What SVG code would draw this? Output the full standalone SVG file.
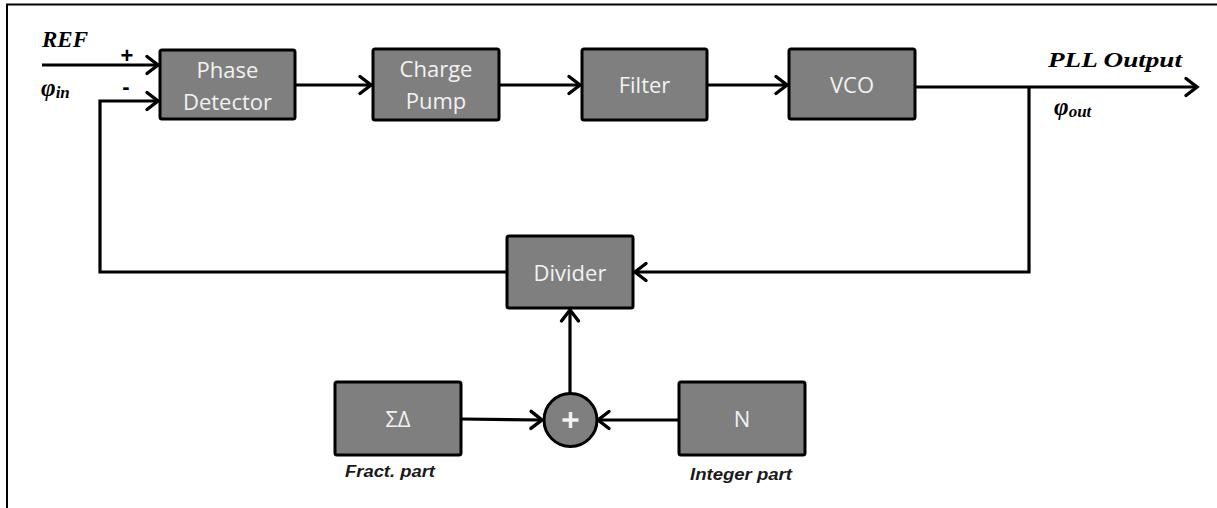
<svg xmlns="http://www.w3.org/2000/svg" width="1217" height="508" viewBox="0 0 1217 508">
<defs>
<marker id="arr" markerUnits="userSpaceOnUse" markerWidth="20" markerHeight="20" refX="0" refY="0" viewBox="-12 -10 14 20" orient="auto" overflow="visible">
<path d="M-11,-8.5 L0,0 L-11,8.5" fill="none" stroke="#000" stroke-width="3.4" stroke-linecap="round" stroke-linejoin="miter"/>
</marker>
<style>
.box{fill:#7f7f7f;stroke:#000;stroke-width:3}
.bt{font-family:"Open Sans","Noto Sans",sans-serif;font-size:22px;fill:#f2f2f2;text-anchor:middle}
.ln{fill:none;stroke:#000;stroke-width:3.2;stroke-linejoin:miter}
.math{font-family:"Liberation Serif",serif;font-weight:bold;font-style:italic;fill:#000}
.lab{font-family:"Liberation Sans",sans-serif;font-weight:bold;font-style:italic;font-size:16px;fill:#1a1a1a}
.sign{font-family:"Liberation Sans",sans-serif;font-weight:bold;font-size:22px;fill:#000;text-anchor:middle}
</style>
</defs>
<rect width="1217" height="508" fill="#fff"/>
<path d="M7,508 L7,4.5 L1217,4.5" fill="none" stroke="#000" stroke-width="2"/>

<g id="connectors">
<line class="ln" x1="42" y1="65" x2="158" y2="65" marker-end="url(#arr)"/>
<polyline class="ln" points="507,272 100,272 100,101 158,101" marker-end="url(#arr)"/>
<line class="ln" x1="295" y1="85" x2="371" y2="85" marker-end="url(#arr)"/>
<line class="ln" x1="499" y1="85" x2="580" y2="85" marker-end="url(#arr)"/>
<line class="ln" x1="707" y1="85" x2="787" y2="85" marker-end="url(#arr)"/>
<line class="ln" x1="915" y1="87" x2="1197" y2="87" marker-end="url(#arr)"/>
<polyline class="ln" points="1029,87 1029,272 635,272" marker-end="url(#arr)"/>
<line class="ln" x1="570" y1="393" x2="570" y2="310" marker-end="url(#arr)"/>
<line class="ln" x1="461" y1="419" x2="542" y2="420" marker-end="url(#arr)"/>
<line class="ln" x1="679" y1="420" x2="598" y2="420" marker-end="url(#arr)"/>
</g>

<g id="phase-detector">
<rect class="box" x="160" y="50" width="135" height="69" rx="2"/>
<text class="bt" x="227.5" y="78">Phase</text>
<text class="bt" x="227.5" y="110">Detector</text>
</g>
<g id="charge-pump">
<rect class="box" x="373" y="49" width="126" height="71" rx="2"/>
<text class="bt" x="436" y="77">Charge</text>
<text class="bt" x="436" y="109">Pump</text>
</g>
<g id="filter">
<rect class="box" x="582" y="49" width="125" height="71" rx="2"/>
<text class="bt" x="644.5" y="93">Filter</text>
</g>
<g id="vco">
<rect class="box" x="789" y="49" width="126" height="70" rx="2"/>
<text class="bt" x="852" y="93">VCO</text>
</g>
<g id="divider">
<rect class="box" x="507" y="236" width="126" height="72" rx="2"/>
<text class="bt" x="570" y="281">Divider</text>
</g>
<g id="sigma-delta">
<rect class="box" x="335" y="382" width="126" height="73" rx="2"/>
<text class="bt" x="398" y="427">ΣΔ</text>
</g>
<g id="n-block">
<rect class="box" x="679" y="382" width="126" height="73" rx="2"/>
<text class="bt" x="742" y="427">N</text>
</g>
<g id="adder">
<circle cx="570.5" cy="420" r="26.5" fill="#7f7f7f" stroke="#000" stroke-width="3"/>
<path d="M570.5,412 V428 M562.5,420 H578.5" stroke="#f2f2f2" stroke-width="3.5"/>
</g>

<g id="labels">
<text class="math" x="42" y="47" font-size="23">REF</text>
<text class="sign" x="127" y="63">+</text>
<text class="sign" x="126" y="94">-</text>
<text class="math" x="41" y="96" font-size="25">φ<tspan font-size="17" dy="2">in</tspan></text>
<text class="math" x="1048" y="67" font-size="22" textLength="134" lengthAdjust="spacingAndGlyphs">PLL Output</text>
<text class="math" x="1054" y="115" font-size="25">φ<tspan font-size="17" dy="2">out</tspan></text>
<text class="lab" x="345" y="477" textLength="90" lengthAdjust="spacingAndGlyphs">Fract. part</text>
<text class="lab" x="690" y="480" textLength="102" lengthAdjust="spacingAndGlyphs">Integer part</text>
</g>
</svg>
